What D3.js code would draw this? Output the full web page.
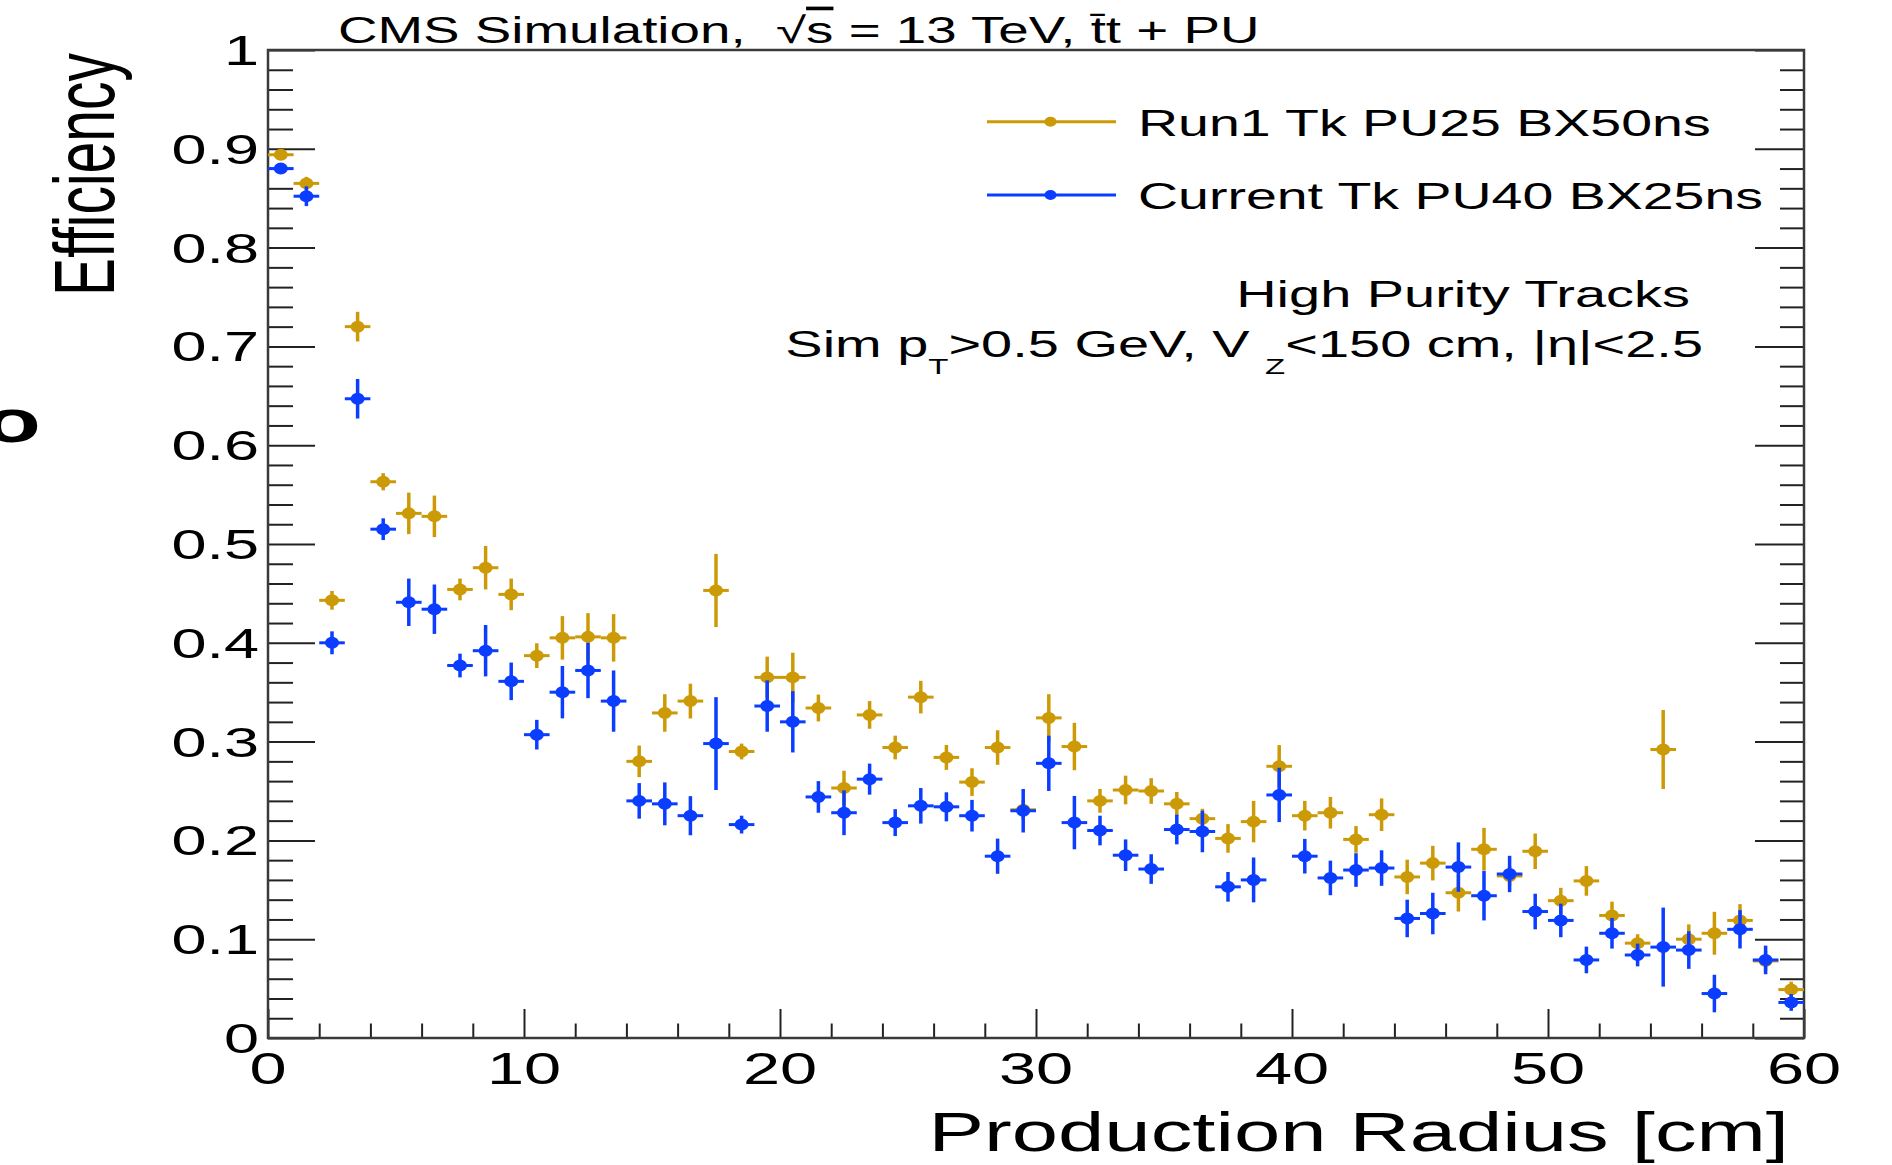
<!DOCTYPE html>
<html lang="en">
  <head>
    <meta charset="UTF-8" />
    <script src="https://d3js.org/d3.v7.min.js"></script>
    <title>Efficiency vs production radius</title>
    <style>
      body { margin: 0; background: #fff; }
      text { font-family: "Liberation Sans", Arial, Helvetica, sans-serif; fill: #000; white-space: pre; }
    </style>
  </head>
  <body>
    <div id="chart-container"></div>

    <script>
      // bin centres [cm], 1 cm bins from 0 to 60
      const binCenters = [
        0.5, 1.5, 2.5, 3.5, 4.5, 5.5, 6.5, 7.5, 8.5, 9.5,
        10.5, 11.5, 12.5, 13.5, 14.5, 15.5, 16.5, 17.5, 18.5, 19.5,
        20.5, 21.5, 22.5, 23.5, 24.5, 25.5, 26.5, 27.5, 28.5, 29.5,
        30.5, 31.5, 32.5, 33.5, 34.5, 35.5, 36.5, 37.5, 38.5, 39.5,
        40.5, 41.5, 42.5, 43.5, 44.5, 45.5, 46.5, 47.5, 48.5, 49.5,
        50.5, 51.5, 52.5, 53.5, 54.5, 55.5, 56.5, 57.5, 58.5, 59.5,
      ];
      const binHalfWidth = 0.5;

      // Run1 Tk PU25 BX50ns
      const run1Eff = [
        0.894, 0.865, 0.443, 0.720, 0.563, 0.531, 0.528, 0.454, 0.476, 0.449,
        0.387, 0.405, 0.406, 0.405, 0.280, 0.329, 0.341, 0.453, 0.290, 0.365,
        0.365, 0.334, 0.253, 0.327, 0.294, 0.345, 0.284, 0.259, 0.294, 0.231,
        0.324, 0.295, 0.240, 0.251, 0.250, 0.237, 0.222, 0.202, 0.219, 0.275,
        0.225, 0.228, 0.201, 0.226, 0.163, 0.177, 0.147, 0.191, 0.164, 0.189,
        0.139, 0.159, 0.124, 0.096, 0.292, 0.100, 0.106, 0.119, 0.078, 0.049,
      ];
      const run1Err = [
        0.003, 0.0066, 0.0095, 0.015, 0.0087, 0.021, 0.021, 0.011, 0.022, 0.016,
        0.0125, 0.022, 0.024, 0.024, 0.016, 0.019, 0.0176, 0.037, 0.008, 0.021,
        0.025, 0.0136, 0.0175, 0.014, 0.012, 0.0165, 0.0126, 0.014, 0.0175, 0.01,
        0.024, 0.024, 0.012, 0.0145, 0.013, 0.012, 0.01, 0.0145, 0.021, 0.0215,
        0.015, 0.016, 0.0135, 0.0165, 0.0175, 0.0175, 0.019, 0.0217, 0.01, 0.018,
        0.013, 0.015, 0.014, 0.009, 0.040, 0.015, 0.0217, 0.0165, 0.01, 0.008,
      ];

      // Current Tk PU40 BX25ns
      const currentEff = [
        0.880, 0.852, 0.400, 0.647, 0.515, 0.441, 0.434, 0.377, 0.392, 0.361,
        0.307, 0.350, 0.372, 0.341, 0.240, 0.237, 0.225, 0.298, 0.216, 0.336,
        0.320, 0.244, 0.228, 0.262, 0.218, 0.235, 0.234, 0.225, 0.184, 0.230,
        0.278, 0.218, 0.210, 0.185, 0.171, 0.211, 0.209, 0.153, 0.160, 0.246,
        0.184, 0.162, 0.170, 0.172, 0.121, 0.126, 0.173, 0.144, 0.166, 0.128,
        0.119, 0.079, 0.106, 0.084, 0.092, 0.089, 0.045, 0.110, 0.079, 0.036,
      ];
      const currentErr = [
        0.004, 0.01, 0.0116, 0.020, 0.011, 0.024, 0.025, 0.012, 0.026, 0.019,
        0.015, 0.0265, 0.028, 0.031, 0.018, 0.0217, 0.0198, 0.047, 0.009, 0.026,
        0.031, 0.016, 0.0227, 0.0157, 0.0136, 0.018, 0.0147, 0.016, 0.0178, 0.022,
        0.028, 0.027, 0.015, 0.016, 0.015, 0.015, 0.021, 0.015, 0.0227, 0.0275,
        0.0175, 0.0175, 0.017, 0.018, 0.019, 0.021, 0.025, 0.025, 0.0184, 0.018,
        0.017, 0.0135, 0.0155, 0.0115, 0.040, 0.019, 0.019, 0.0194, 0.0145, 0.0085,
      ];

      const seriesNames = ["Run1 Tk PU25 BX50ns", "Current Tk PU40 BX25ns"];
      const yMajorTicks = [0, 0.1, 0.2, 0.3, 0.4, 0.5, 0.6, 0.7, 0.8, 0.9, 1];
      const xMajorTicks = [0, 10, 20, 30, 40, 50, 60];

      const colors = ["#cc9a06", "#0a3dff"];
      const SX = 1.5; // the picture is stretched horizontally

      const W = 1892, H = 1165;
      const margin = { top: 50, right: 88, bottom: 127, left: 268 };
      const width = W - margin.left - margin.right;
      const height = H - margin.top - margin.bottom;

      const svg = d3.select("#chart-container").append("svg")
        .attr("width", W).attr("height", H);
      svg.append("rect").attr("width", W).attr("height", H).attr("fill", "#fff");

      const g = svg.append("g")
        .attr("transform", "translate(" + margin.left + "," + margin.top + ")");

      const x = d3.scaleLinear().domain([0, 60]).range([0, width]);
      const y = d3.scaleLinear().domain([0, 1]).range([height, 0]);

      function label(parent, px, py, str, size, anchor) {
        return parent.append("text")
          .attr("transform", "translate(" + px + "," + py + ") scale(" + SX + ",1)")
          .attr("text-anchor", anchor)
          .attr("font-size", size)
          .text(str);
      }

      // ticks (ROOT style, inside the frame)
      const yMinor = d3.range(0, 1.0001, 0.02).filter((v) => Math.abs(v * 10 - Math.round(v * 10)) > 1e-6);
      const xMinor = d3.range(0, 60.001, 2).filter((v) => v % 10 !== 0);

      function tickAxis(axis, vals, size) {
        return axis.tickValues(vals).tickSizeInner(size).tickSizeOuter(0).tickFormat("");
      }
      const axes = [
        [g.append("g"), d3.axisLeft(y), yMajorTicks, -47],
        [g.append("g"), d3.axisLeft(y), yMinor, -25],
        [g.append("g").attr("transform", "translate(" + width + ",0)"), d3.axisRight(y), yMajorTicks, -49],
        [g.append("g").attr("transform", "translate(" + width + ",0)"), d3.axisRight(y), yMinor, -24],
        [g.append("g").attr("transform", "translate(0," + height + ")"), d3.axisBottom(x), xMajorTicks, -29],
        [g.append("g").attr("transform", "translate(0," + height + ")"), d3.axisBottom(x), xMinor, -14.5],
      ];
      axes.forEach(([sel, ax, vals, size]) => {
        sel.call(tickAxis(ax, vals, size));
        sel.select(".domain").remove();
        sel.selectAll("line").attr("stroke", "#222").attr("stroke-width", 2);
      });

      // frame
      g.append("rect")
        .attr("width", width).attr("height", height)
        .attr("fill", "none").attr("stroke", "#3a3a3a").attr("stroke-width", 2.5);

      // tick labels
      yMajorTicks.forEach((v) => {
        const t = v === 0 ? "0" : v === 1 ? "1" : v.toFixed(1);
        label(g, -9, y(v) + 15, t, 42, "end");
      });
      xMajorTicks.forEach((v) => {
        label(g, x(v), height + 46, String(v), 44.5, "middle");
      });

      // axis titles
      label(g, width - 15, height + 113, "Production Radius [cm]", 55.5, "end");
      svg.append("text")
        .attr("transform", "translate(114,53) scale(" + SX + ",1) rotate(-90)")
        .attr("text-anchor", "end")
        .attr("font-size", 57)
        .text("Efficiency");

      // clipped letter at the left edge
      svg.append("text")
        .attr("transform", "translate(-16,442) scale(" + SX + ",1)")
        .attr("font-size", 62)
        .attr("font-weight", "bold")
        .text("o");

      // title
      const title = label(svg, 338, 42.7, "CMS Simulation,  √", 36.5, "start");
      title.append("tspan").style("text-decoration", "overline").text("s");
      title.append("tspan").text(" = 13 TeV, t\u0304t + PU");

      // data points with error bars
      const series = [
        { vals: run1Eff, errs: run1Err, color: colors[0] },
        { vals: currentEff, errs: currentErr, color: colors[1] },
      ];
      series.forEach((s) => {
        const pts = binCenters.map((c, i) => ({ c: c, v: s.vals[i], e: s.errs[i] }));
        const sg = g.append("g");
        sg.selectAll(".hbar").data(pts).join("line")
          .attr("x1", (d) => x(d.c - binHalfWidth)).attr("x2", (d) => x(d.c + binHalfWidth))
          .attr("y1", (d) => y(d.v)).attr("y2", (d) => y(d.v))
          .attr("stroke", s.color).attr("stroke-width", 3);
        sg.selectAll(".vbar").data(pts).join("line")
          .attr("x1", (d) => x(d.c)).attr("x2", (d) => x(d.c))
          .attr("y1", (d) => y(d.v - d.e)).attr("y2", (d) => y(d.v + d.e))
          .attr("stroke", s.color).attr("stroke-width", 3.5);
        sg.selectAll("ellipse").data(pts).join("ellipse")
          .attr("cx", (d) => x(d.c)).attr("cy", (d) => y(d.v))
          .attr("rx", 7).attr("ry", 6)
          .attr("fill", s.color);
      });

      // legend
      const legendY = [121.7, 195];
      seriesNames.forEach((name, i) => {
        svg.append("line")
          .attr("x1", 987).attr("x2", 1116).attr("y1", legendY[i]).attr("y2", legendY[i])
          .attr("stroke", colors[i]).attr("stroke-width", 3);
        svg.append("ellipse")
          .attr("cx", 1050.5).attr("cy", legendY[i]).attr("rx", 6).attr("ry", 5)
          .attr("fill", colors[i]);
        label(svg, 1138, legendY[i] + 14, name, 37, "start");
      });

      // selection text
      label(svg, 1690, 307.3, "High Purity Tracks", 37.3, "end");
      const sel = label(svg, 1703, 356.7, "Sim p", 37.3, "end");
      sel.append("tspan").attr("font-size", 22).attr("dy", 17).text("T");
      sel.append("tspan").attr("dy", -17).text(">0.5 GeV, V ");
      sel.append("tspan").attr("font-size", 22).attr("dy", 17).text("Z");
      sel.append("tspan").attr("dy", -17).text("<150 cm, |η|<2.5");
    </script>
  </body>
</html>
